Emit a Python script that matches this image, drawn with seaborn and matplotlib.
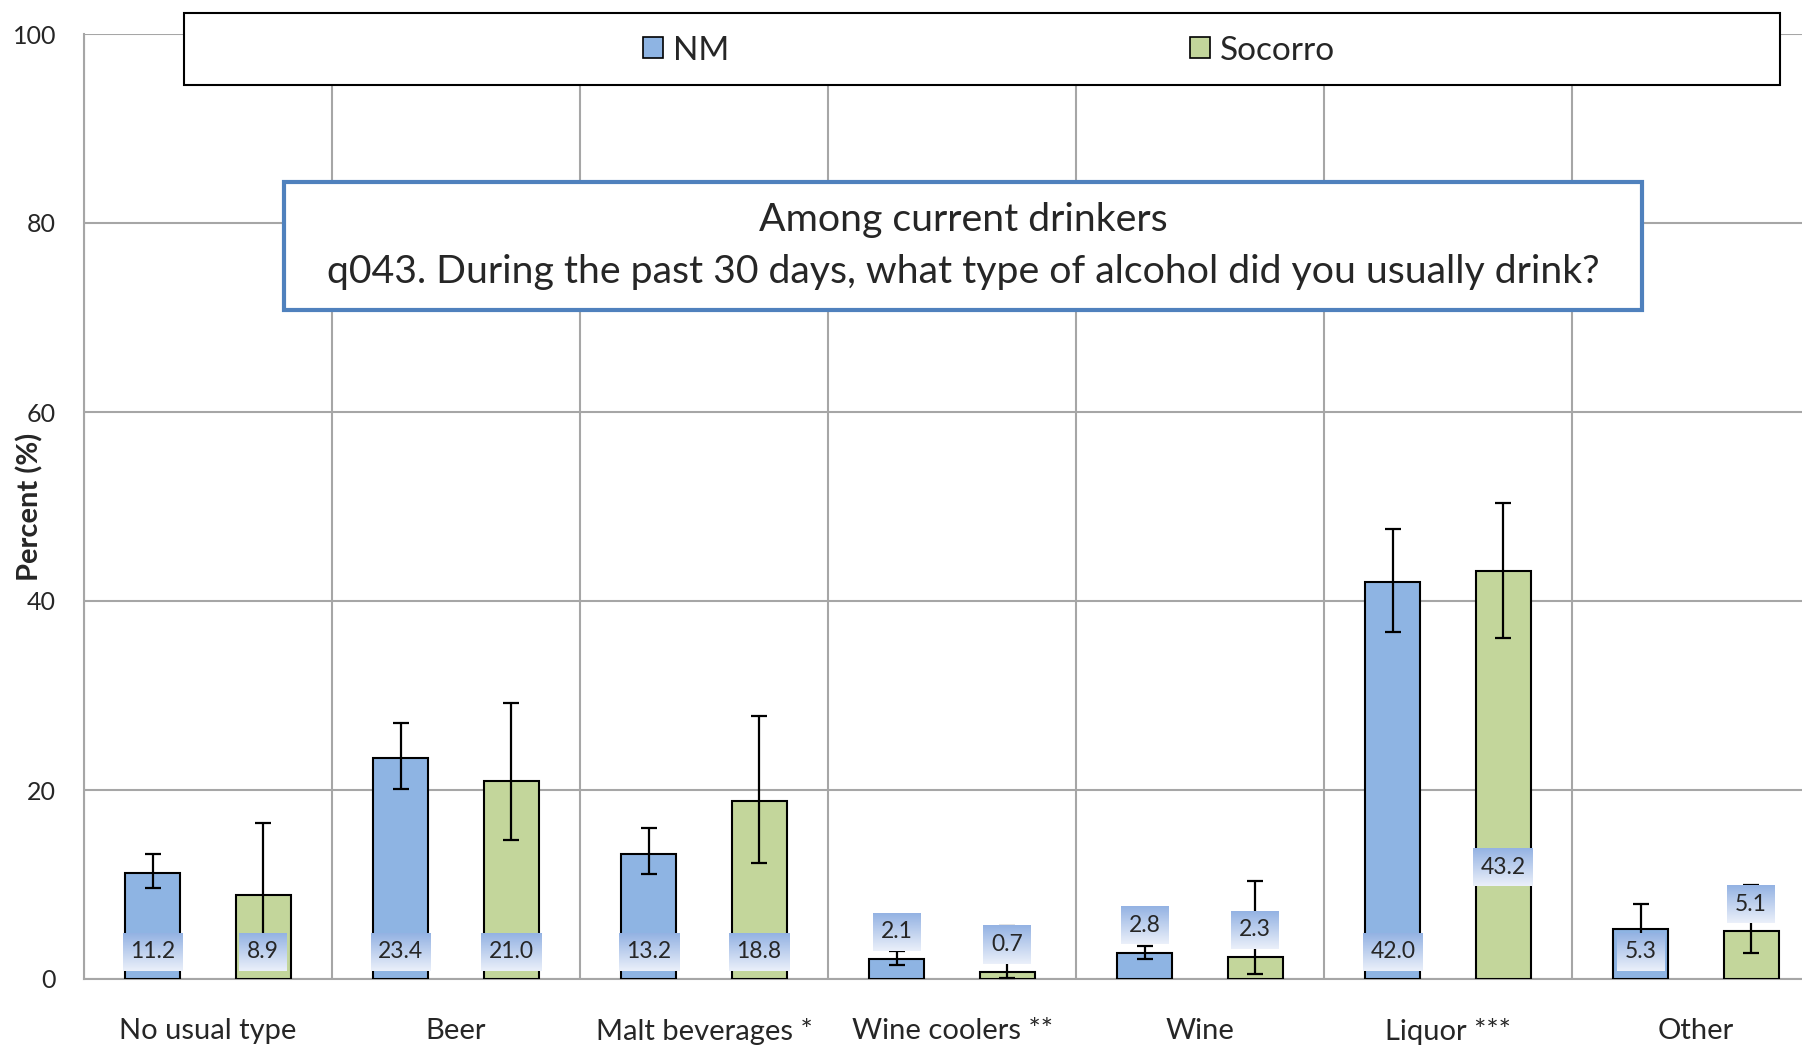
import matplotlib
matplotlib.use("Agg")
import matplotlib.pyplot as plt
import seaborn as sb
import pandas as pd
import numpy as np
from matplotlib.patches import Rectangle, Patch

# date
categorii = ["No usual type", "Beer", "Malt beverages *", "Wine coolers **",
             "Wine", "Liquor ***", "Other"]
serii = ["NM", "Socorro"]
nm = [11.2, 23.4, 13.2, 2.1, 2.8, 42.0, 5.3]
socorro = [8.9, 21.0, 18.8, 0.7, 2.3, 43.2, 5.1]
nm_jos = [9.6, 20.1, 11.1, 1.5, 2.1, 36.7, 2.7]
nm_sus = [13.2, 27.1, 16.0, 3.0, 3.5, 47.6, 7.9]
soc_jos = [4.2, 14.7, 12.3, 0.1, 0.5, 36.1, 2.7]
soc_sus = [16.5, 29.2, 27.8, 5.6, 10.4, 50.4, 10.0]

titlu = "Among current drinkers\nq043. During the past 30 days, what type of alcohol did you usually drink?"
culori = {"NM": "#8eb4e3", "Socorro": "#c3d69b"}

# pozitia etichetelor (in unitati ale axei y)
eticheta_nm_y = [2.9, 2.9, 2.9, 5.0, 5.7, 2.9, 2.9]
eticheta_soc_y = [2.9, 2.9, 2.9, 3.65, 5.2, 11.85, 7.9]

sb.set_style("white")
plt.rcParams["font.family"] = ["Lato", "DejaVu Sans"]

W, H = 1802, 1045
fig = plt.figure(figsize=(W / 100, H / 100), dpi=100)
ax = fig.add_axes([84 / W, 1 - 979 / H, 1736 / W, 945 / H])

t = pd.DataFrame({
    "categorie": categorii * 2,
    "serie": ["NM"] * len(categorii) + ["Socorro"] * len(categorii),
    "valoare": nm + socorro,
})
sb.barplot(data=t, x="categorie", y="valoare", hue="serie", palette=culori,
           width=0.889, gap=0.5, errorbar=None, edgecolor="black", saturation=1,
           linewidth=1.5, ax=ax, legend=False, zorder=3)

x = np.arange(len(categorii))
dx = 0.2222
for xs, v, lo, hi in [(x - dx, nm, nm_jos, nm_sus), (x + dx, socorro, soc_jos, soc_sus)]:
    v = np.array(v)
    err = np.vstack([v - np.array(lo), np.array(hi) - v])
    ax.errorbar(xs, v, yerr=err, fmt="none", ecolor="black", elinewidth=1.6,
                capsize=6, capthick=1.6, zorder=4)

# etichete cu fundal in degrade
grad = np.linspace(0, 1, 60)[:, None, None]
sus = np.array([0.58, 0.70, 0.89])
jos = np.array([0.92, 0.94, 0.98])
img = sus * (1 - grad) + jos * grad
px_cat = 1736 / 7.0
px_unit = 945 / 100.0
for xs, v, ly in [(x - dx, nm, eticheta_nm_y), (x + dx, socorro, eticheta_soc_y)]:
    for xi, vi, yi in zip(xs, v, ly):
        s = f"{vi:.1f}"
        w = (12 + 12 * len(s)) / px_cat
        h = 38 / px_unit
        ax.imshow(img, extent=[xi - w / 2, xi + w / 2, yi - h / 2, yi + h / 2],
                  aspect="auto", zorder=5, interpolation="bilinear")
        ax.text(xi, yi, s, ha="center", va="center", fontsize=16.5, zorder=6)

ax.set_xlim(-0.5, 6.5)
ax.set_ylim(0, 100)
ax.set_yticks(range(0, 101, 20))
ax.set_xticks(x)
ax.set_xticklabels(categorii, fontsize=21)
ax.set_xticks(np.arange(-0.5, 7, 1), minor=True)
ax.tick_params(axis="x", which="major", length=0, pad=28)
ax.tick_params(axis="x", which="minor", length=10, width=1.5, color="#a6a6a6", direction="out")
ax.tick_params(axis="y", length=8, width=1.5, color="#a6a6a6", direction="out", pad=12, labelsize=18)
ax.grid(axis="y", which="major", color="#a6a6a6", linewidth=1.5)
ax.grid(axis="x", which="minor", color="#a6a6a6", linewidth=1.5)
ax.set_axisbelow(True)
for sp in ["top", "right"]:
    ax.spines[sp].set_visible(False)
for sp in ["left", "bottom"]:
    ax.spines[sp].set_color("#a6a6a6")
    ax.spines[sp].set_linewidth(1.5)
ax.set_xlabel("")
ax.set_ylabel("Percent (%)", fontsize=21, fontweight="bold")
ax.yaxis.set_label_coords(-0.0235, 0.5)

# legenda
fig.add_artist(Rectangle((184 / W, 1 - 85 / H), 1596 / W, 72 / H, transform=fig.transFigure,
                         facecolor="white", edgecolor="black", linewidth=1.5, zorder=2))
manere = [Patch(facecolor=culori[s], edgecolor="black", linewidth=1.2, label=s) for s in serii]
fig.legend(handles=manere, loc="center", bbox_to_anchor=(989 / W, 1 - 50.5 / H), ncol=2,
           frameon=False, fontsize=24, handlelength=0.6, handleheight=0.6,
           handletextpad=0.3, columnspacing=13.8)

# caseta titlu
fig.add_artist(Rectangle((284 / W, 1 - 310 / H), 1358 / W, 128 / H, transform=fig.transFigure,
                         facecolor="white", edgecolor="#4f81bd", linewidth=3, zorder=2))
fig.text(963 / W, 1 - 246 / H, titlu, ha="center", va="center", fontsize=28.3,
         linespacing=1.55, zorder=3)

fig.savefig("out.png", dpi=100)
